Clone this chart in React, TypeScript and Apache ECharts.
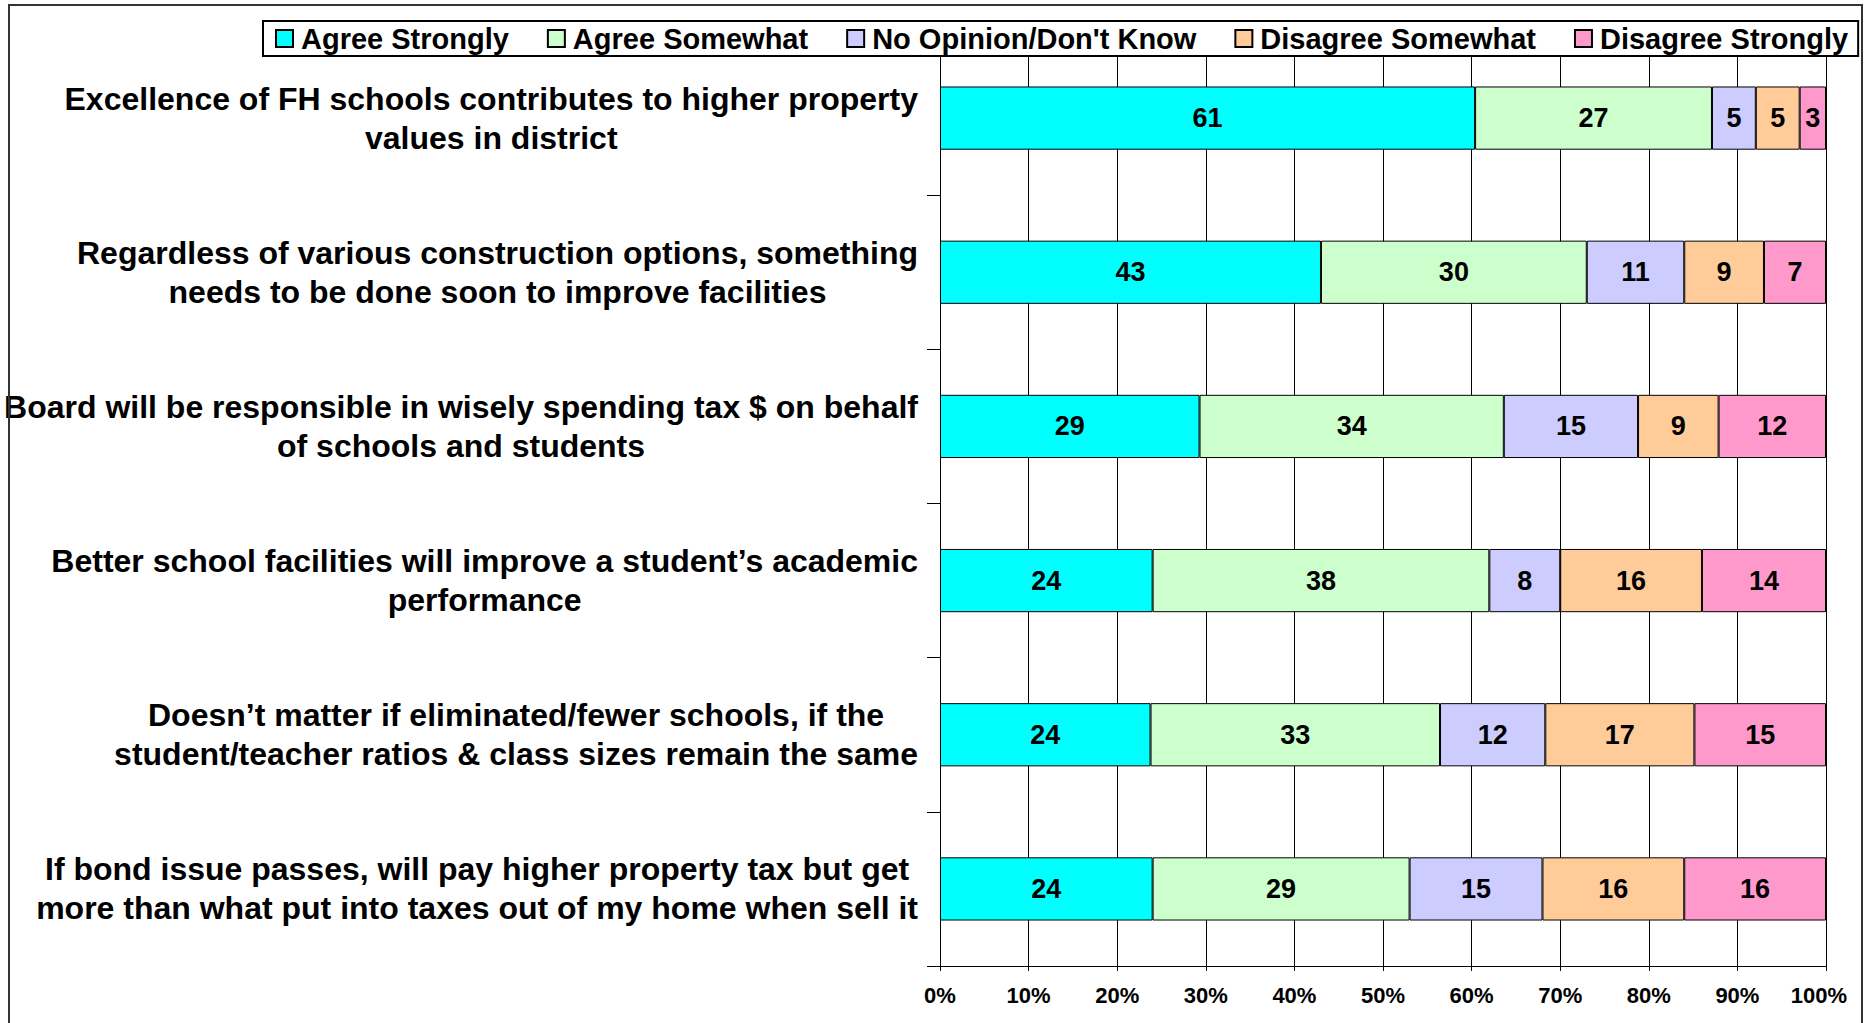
import React, { useEffect, useRef } from "react";
import * as echarts from "echarts";

const categories = [
  "Excellence of FH schools contributes to higher property\nvalues in district",
  "Regardless of various construction options, something\nneeds to be done soon to improve facilities",
  "Board will be responsible in wisely spending tax $ on behalf\nof schools and students",
  "Better school facilities will improve a student\u2019s academic\nperformance",
  "Doesn\u2019t matter if eliminated/fewer schools, if the\nstudent/teacher ratios & class sizes remain the same",
  "If bond issue passes, will pay higher property tax but get\nmore than what put into taxes out of my home when sell it",
];

const seriesNames = [
  "Agree Strongly",
  "Agree Somewhat",
  "No Opinion/Don't Know",
  "Disagree Somewhat",
  "Disagree Strongly",
];

const agreeStrongly = [61, 43, 29, 24, 24, 24];
const agreeSomewhat = [27, 30, 34, 38, 33, 29];
const noOpinion = [5, 11, 15, 8, 12, 15];
const disagreeSomewhat = [5, 9, 9, 16, 17, 16];
const disagreeStrongly = [3, 7, 12, 14, 15, 16];

const colors = ["#00FFFF", "#CCFFCC", "#CCCCFF", "#FFCC99", "#FF99CC"];

const xTicks = [0, 10, 20, 30, 40, 50, 60, 70, 80, 90, 100];

const FONT = "'Liberation Sans', Arial, Helvetica, sans-serif";

export default function App() {
  const ref = useRef<HTMLDivElement>(null);

  useEffect(() => {
    document.body.style.margin = "0";
    document.body.style.overflow = "hidden";
    if (!ref.current) return;
    const chart = echarts.init(ref.current, undefined, { renderer: "svg" });

    const allSeries = [agreeStrongly, agreeSomewhat, noOpinion, disagreeSomewhat, disagreeStrongly];
    const totals = categories.map((_, i) =>
      allSeries.reduce((s, arr) => s + arr[i], 0)
    );

    const series = allSeries.map((arr, si) => ({
      name: seriesNames[si],
      type: "bar",
      stack: "total",
      barCategoryGap: "59%",
      itemStyle: { color: colors[si], borderColor: "#000", borderWidth: 1 },
      label: {
        show: true,
        position: "inside",
        color: "#000",
        fontFamily: FONT,
        fontWeight: "bold",
        fontSize: 27,
        formatter: (p: any) => String(p.data.raw),
      },
      emphasis: { disabled: true },
      data: arr.map((v, i) => ({ value: (v / totals[i]) * 100, raw: v })),
    }));

    chart.setOption({
      animation: false,
      backgroundColor: "#fff",
      textStyle: { fontFamily: FONT },
      graphic: [
        {
          type: "rect",
          shape: { x: 9, y: 5, width: 1853, height: 1040 },
          style: { fill: "none", stroke: "#333", lineWidth: 2 },
          z: 100,
        },
      ],
      legend: {
        show: true,
        left: 263,
        top: 21,
        orient: "horizontal",
        icon: "rect",
        itemWidth: 17,
        itemHeight: 17,
        itemGap: 38,
        padding: [3, 10, 3, 12],
        borderColor: "#000",
        borderWidth: 2,
        backgroundColor: "#fff",
        data: seriesNames,
        textStyle: {
          fontFamily: FONT,
          fontWeight: "bold",
          fontSize: 29,
          color: "#000",
          padding: [0, 0, 0, 3],
        },
        z: 10,
      },
      grid: { left: 940, right: 43, top: 41, bottom: 57, containLabel: false },
      xAxis: {
        type: "value",
        min: 0,
        max: 100,
        interval: 10,
        axisLine: { show: true, lineStyle: { color: "#000", width: 1 } },
        axisTick: { show: true, length: 5, lineStyle: { color: "#000" } },
        splitLine: { show: true, lineStyle: { color: "#000", width: 1 } },
        axisLabel: {
          margin: 18,
          fontFamily: FONT,
          fontWeight: "bold",
          fontSize: 22,
          color: "#000",
          formatter: (v: number) =>
            v === 100 ? `{m|${v}%}` : xTicks.includes(v) ? `${v}%` : "",
          rich: {
            m: {
              fontFamily: FONT,
              fontWeight: "bold",
              fontSize: 22,
              color: "#000",
              padding: [0, 14, 0, 0],
            },
          },
        },
      },
      yAxis: {
        type: "category",
        inverse: true,
        data: categories,
        axisLine: { show: true, lineStyle: { color: "#000", width: 1 } },
        axisTick: { show: true, length: 13, lineStyle: { color: "#000" } },
        splitLine: { show: false },
        axisLabel: {
          margin: 22,
          align: "right",
          color: "#000",
          fontFamily: FONT,
          fontWeight: "bold",
          fontSize: 32,
          lineHeight: 39,
          formatter: (v: string) =>
            v
              .split("\n")
              .map((l) => `{c|${l}}`)
              .join("\n"),
          rich: {
            c: {
              align: "center",
              fontFamily: FONT,
              fontWeight: "bold",
              fontSize: 32,
              lineHeight: 39,
              color: "#000",
            },
          },
        },
      },
      series,
    });

    return () => chart.dispose();
  }, []);

  return <div ref={ref} style={{ width: 1869, height: 1023 }} />;
}
